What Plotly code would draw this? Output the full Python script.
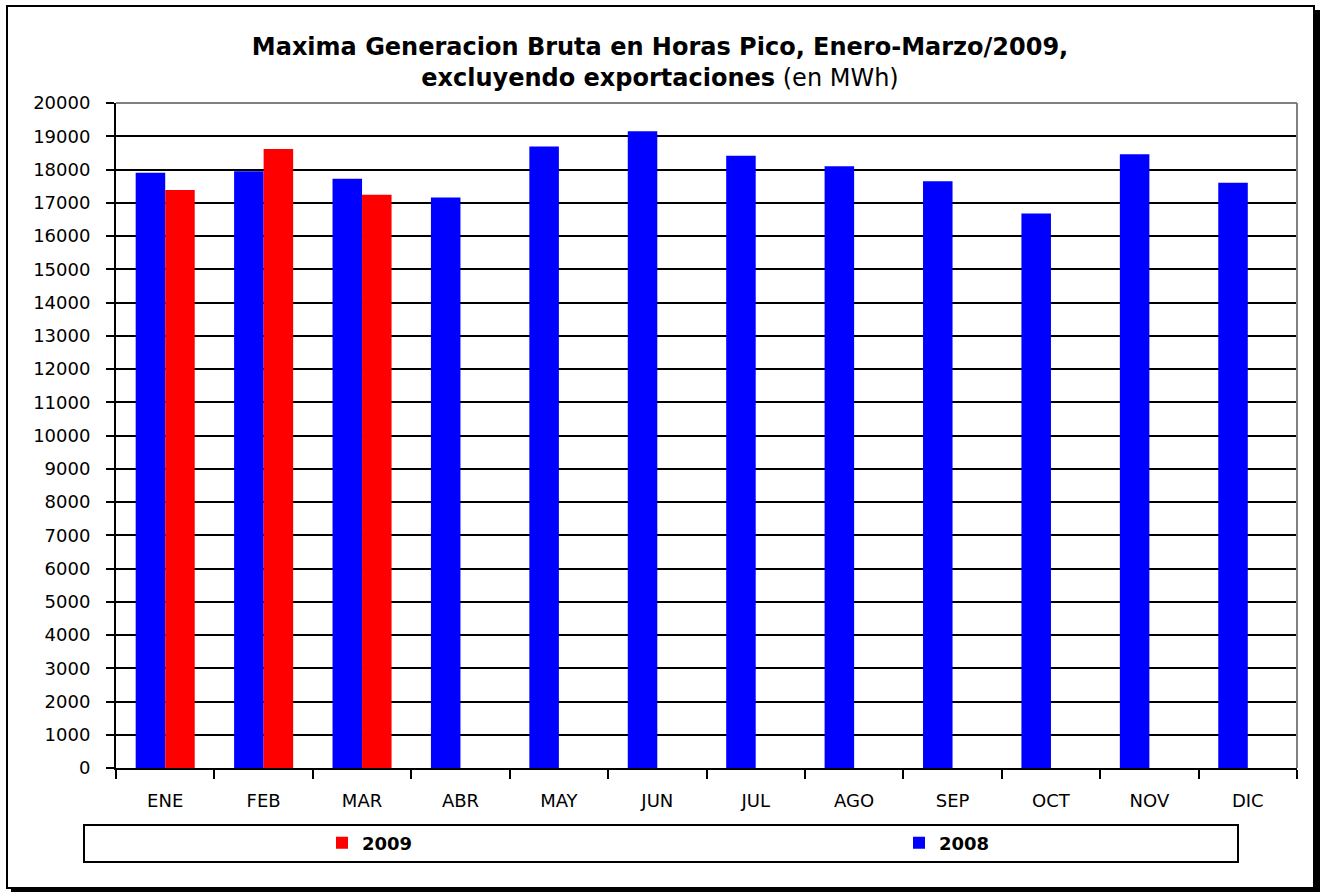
import plotly.graph_objects as go

months = ["ENE", "FEB", "MAR", "ABR", "MAY", "JUN", "JUL", "AGO", "SEP", "OCT", "NOV", "DIC"]
gen_2008 = [17900, 17950, 17720, 17160, 18690, 19150, 18410, 18100, 17650, 16680, 18460, 17600]
gen_2009 = [17380, 18620, 17240, None, None, None, None, None, None, None, None, None]

W, H = 1320, 892
L, R, T, B = 116, 1297, 103, 768
FONT = "DejaVu Sans, sans-serif"

def px(x):
    return (x - L) / (R - L)

def py(y):
    return (B - y) / (B - T)

fig = go.Figure()
fig.add_trace(go.Bar(x=months, y=gen_2008, name="<b>2008</b>", marker_color="#0000FF",
                     marker_line_width=0, legend="legend2"))
fig.add_trace(go.Bar(x=months, y=gen_2009, name="<b>2009</b>", marker_color="#FF0000",
                     marker_line_width=0, legend="legend"))

shapes = [
    # plot area border (top/right, gray)
    dict(type="line", xref="paper", yref="paper", x0=0, x1=1, y0=1, y1=1,
         line=dict(color="#808080", width=2), layer="above"),
    dict(type="line", xref="paper", yref="paper", x0=1, x1=1, y0=0, y1=1,
         line=dict(color="#808080", width=2), layer="above"),
    # outer chart frame
    dict(type="rect", xref="paper", yref="paper", x0=px(7), x1=px(1314), y0=py(6), y1=py(888),
         line=dict(color="black", width=2), layer="below"),
    # shadow right and bottom
    dict(type="rect", xref="paper", yref="paper", x0=px(1315), x1=px(1320), y0=py(10), y1=py(892),
         line=dict(width=0), fillcolor="black", layer="below"),
    dict(type="rect", xref="paper", yref="paper", x0=px(11), x1=px(1320), y0=py(889), y1=py(892),
         line=dict(width=0), fillcolor="black", layer="below"),
    # legend box
    dict(type="rect", xref="paper", yref="paper", x0=px(84), x1=px(1238), y0=py(825), y1=py(862),
         line=dict(color="black", width=2), layer="below"),
]

legend_common = dict(orientation="h", xanchor="left", y=py(843), yanchor="middle",
                     bgcolor="rgba(0,0,0,0)", borderwidth=0,
                     font=dict(family=FONT, size=18, color="black"))

fig.update_layout(
    width=W, height=H,
    margin=dict(l=L, r=W - R, t=T, b=H - B, pad=0),
    paper_bgcolor="white", plot_bgcolor="white",
    barmode="group", bargap=0.40, bargroupgap=0,
    font=dict(family=FONT, size=18, color="black"),
    title=dict(
        text="<b>Maxima Generacion Bruta en Horas Pico, Enero-Marzo/2009,</b><br>"
             "<b>excluyendo exportaciones</b> (en MWh)",
        x=0.5, xref="container", xanchor="center",
        y=1 - 61 / H, yref="container", yanchor="middle",
        font=dict(family=FONT, size=24, color="black"),
    ),
    showlegend=True,
    legend=dict(x=px(322), **legend_common),
    legend2=dict(x=px(899), **legend_common),
    xaxis=dict(showline=True, linecolor="black", linewidth=2, ticks="outside", tickson="boundaries",
               ticklen=9, tickwidth=2, tickcolor="black", showgrid=False,
               ticklabelstandoff=15, tickfont=dict(family=FONT, size=18)),
    yaxis=dict(range=[0, 20000], dtick=1000, tick0=0, tickformat="d",
               showline=True, linecolor="black", linewidth=2,
               ticks="outside", ticklen=8, tickwidth=2, tickcolor="black",
               showgrid=True, gridcolor="black", gridwidth=2, zeroline=False,
               ticklabelstandoff=12, tickfont=dict(family=FONT, size=18)),
    shapes=shapes,
)
# shift title up a bit
fig.layout.title.y = 1 - 55 / H

fig.write_html("out.html", config={"displayModeBar": False},
               post_script="document.body.style.margin='0';document.body.style.overflow='hidden';")
